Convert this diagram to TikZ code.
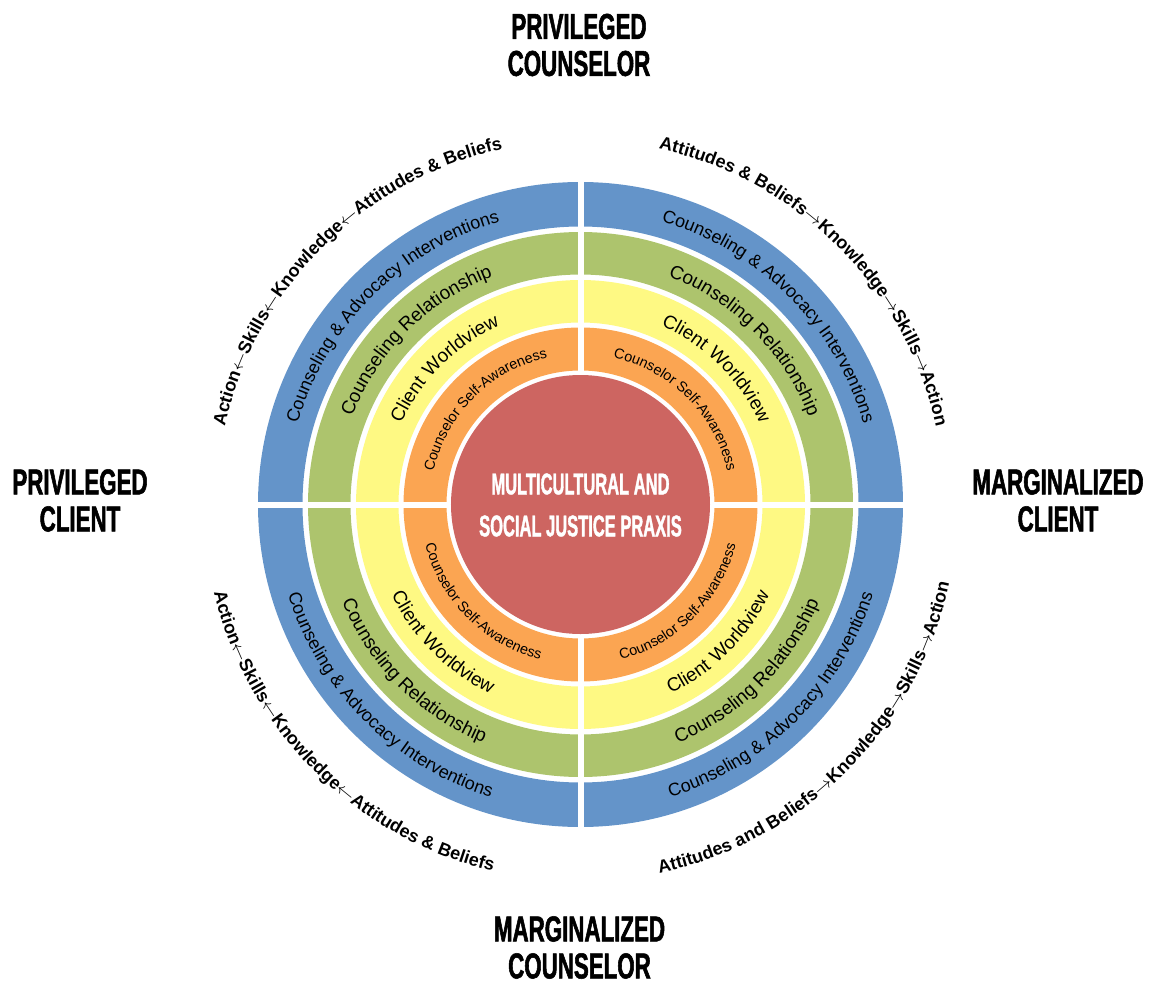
\documentclass[tikz,border=0pt]{standalone}
\usepackage{fontspec}
\setmainfont{Liberation Sans}
\newfontfamily\headfont[FakeStretch=0.62, FakeBold=1.5]{Liberation Sans}
\newfontfamily\praxisfont[FakeStretch=0.55, FakeBold=1.2]{Liberation Sans}
\newfontfamily\spacedfont[LetterSpace=6]{Liberation Sans}
\usetikzlibrary{decorations.text, positioning}
\pgfdeclarelayer{edgelayer}
\pgfdeclarelayer{nodelayer}
\pgfsetlayers{edgelayer,main,nodelayer}
\definecolor{ringblue}{HTML}{6494C9}
\definecolor{ringgreen}{HTML}{ADC46D}
\definecolor{ringyellow}{HTML}{FEF983}
\definecolor{ringorange}{HTML}{FBA552}
\definecolor{praxisred}{HTML}{CD6561}
\tikzset{
	heading/.style={align=center, inner sep=0pt, font=\headfont\bfseries\fontsize{18}{18.5}\selectfont},
	praxis/.style={align=center, inner sep=0pt, text=white, font=\praxisfont\bfseries\fontsize{15}{21}\selectfont},
	ringtext/.style={decorate, decoration={text along path, text align=center, text={#1}}},
	quadgap/.style={white, line width=3pt}
}

\begin{document}
\begin{tikzpicture}[x=0.5pt, y=0.5pt]
	\useasboundingbox (-580.5, -481.5) rectangle (570.5, 504.5);
	\begin{pgfonlayer}{edgelayer}
		\foreach \ro/\ri/\c in {322.5/278/ringblue, 272.5/230/ringgreen, 224.5/182/ringyellow, 177/134/ringorange}
			\fill [\c, even odd rule] (0, 0) circle [radius=\ro] circle [radius=\ri];
		\fill [praxisred] (0, 0) circle [radius=129.5];
		\foreach \a in {0, 90, 180, 270}
			\draw [quadgap] (\a:131) -- (\a:326);
	\end{pgfonlayer}
	\begin{pgfonlayer}{nodelayer}
		\node [praxis] (0) at (0, -0.5) {MULTICULTURAL AND\\SOCIAL JUSTICE PRAXIS};
		\node [heading] (1) at (-1.5, 459.5) {PRIVILEGED\\COUNSELOR};
		\node [heading] (2) at (-500.5, 4) {PRIVILEGED\\CLIENT};
		\node [heading] (3) at (477.5, 4) {MARGINALIZED\\CLIENT};
		\node [heading] (4) at (-1, -443) {MARGINALIZED\\COUNSELOR};
		% ring labels, top quadrants clockwise, bottom ones counterclockwise
		\foreach \sa/\ea/\sg in {180/90/-1, 90/0/-1, 180/270/1, 270/360/1} {
			\path [ringtext={|\fontsize{9}{9}\selectfont|Counseling {\&} Advocacy Interventions}] (\sa:300+6*\sg) arc [start angle=\sa, end angle=\ea, radius=300+6*\sg];
			\path [ringtext={|\fontsize{9.5}{9.5}\selectfont|Counseling Relationship}] (\sa:251+6.5*\sg) arc [start angle=\sa, end angle=\ea, radius=251+6.5*\sg];
			\path [ringtext={|\spacedfont\fontsize{9.5}{9.5}\selectfont|Client Worldview}] (\sa:203+6.5*\sg) arc [start angle=\sa, end angle=\ea, radius=203+6.5*\sg];
			\path [ringtext={|\fontsize{7.2}{7.2}\selectfont|Counselor Self-Awareness}] (\sa:155.5+5*\sg) arc [start angle=\sa, end angle=\ea, radius=155.5+5*\sg];
		}
		% outer sequences
		\path [ringtext={|\bfseries\fontsize{9}{9}\selectfont|Action{$\leftarrow$}Skills{$\leftarrow$}Knowledge{$\leftarrow$}Attitudes {\&} Beliefs}] (180:364) arc [start angle=180, end angle=90, radius=364];
		\path [ringtext={|\bfseries\fontsize{9}{9}\selectfont|Attitudes {\&} Beliefs{$\rightarrow$}Knowledge{$\rightarrow$}Skills{$\rightarrow$}Action}] (90:364) arc [start angle=90, end angle=0, radius=364];
		\path [ringtext={|\bfseries\fontsize{9}{9}\selectfont|Action{$\leftarrow$}Skills{$\leftarrow$}Knowledge{$\leftarrow$}Attitudes {\&} Beliefs}] (180:377) arc [start angle=180, end angle=270, radius=377];
		\path [ringtext={|\bfseries\fontsize{9}{9}\selectfont|Attitudes and Beliefs{$\rightarrow$}Knowledge{$\rightarrow$}Skills{$\rightarrow$}Action}] (270:377) arc [start angle=270, end angle=360, radius=377];
	\end{pgfonlayer}
\end{tikzpicture}
\end{document}
